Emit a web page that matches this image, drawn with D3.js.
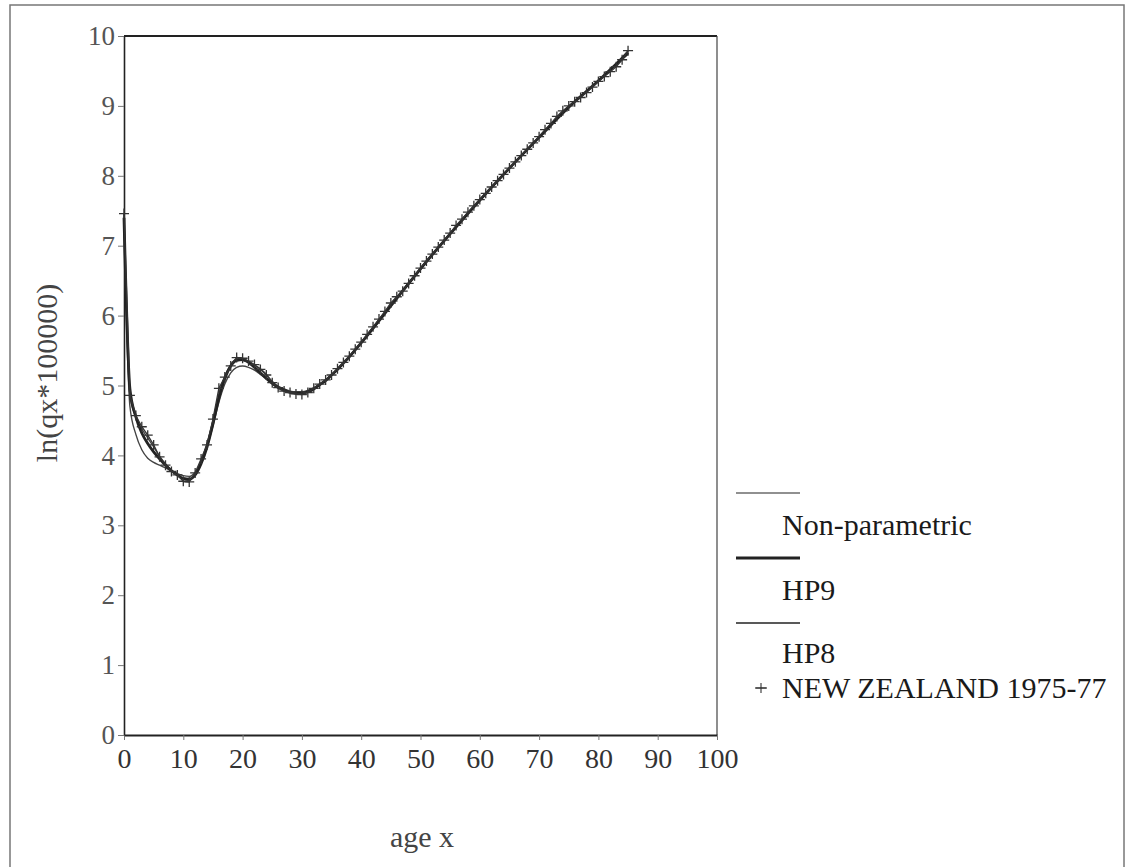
<!DOCTYPE html>
<html>
<head>
<meta charset="utf-8">
<script src="https://cdn.jsdelivr.net/npm/d3@7"></script>
<style>
  html, body { margin: 0; padding: 0; background: #fff; }
  svg text { font-family: "Liberation Serif", "DejaVu Serif", serif; }
</style>
</head>
<body>
<svg id="chart" width="1130" height="867"></svg>
<script>
// ---------------- data ----------------
const ages = d3.range(0, 86); // observed ages 0..85
const observed = [
  7.46, 4.86, 4.57, 4.41, 4.29, 4.15, 3.98, 3.86, 3.77, 3.72,
  3.63, 3.62, 3.75, 3.95, 4.15, 4.52, 4.96, 5.12, 5.28, 5.40,
  5.39, 5.35, 5.30, 5.23, 5.15, 5.04, 4.97, 4.92, 4.90, 4.88,
  4.87, 4.90, 4.96, 5.02, 5.08, 5.15, 5.24, 5.33, 5.42, 5.52,
  5.62, 5.73, 5.84, 5.95, 6.06, 6.18, 6.27, 6.35, 6.46, 6.57,
  6.68, 6.78, 6.88, 6.98, 7.08, 7.18, 7.29, 7.38, 7.48, 7.57,
  7.66, 7.75, 7.84, 7.93, 8.02, 8.11, 8.20, 8.29, 8.38, 8.47,
  8.56, 8.66, 8.75, 8.85, 8.93, 9.00, 9.06, 9.12, 9.19, 9.27,
  9.35, 9.42, 9.49, 9.56, 9.66, 9.79
];
const fitAges = [0,1,2,3,4,5,6,7,8,9,10,11,12,13,14,15,16,17,18,19,20,21,22,23,24,25,26,27,28,29,30,31,32,33,34,35,36,37,38,40,45,50,55,60,65,70,75,80,85];
const nonParametric = [
  7.46, 4.85, 4.55, 4.38, 4.25, 4.12, 3.99, 3.88, 3.79, 3.72,
  3.66, 3.64, 3.73, 3.93, 4.18, 4.50, 4.88, 5.14, 5.30, 5.38,
  5.38, 5.34, 5.29, 5.24, 5.16, 5.06, 4.98, 4.93, 4.90, 4.88,
  4.88, 4.91, 4.96, 5.02, 5.08, 5.15, 5.24, 5.33, 5.42, 5.62,
  6.16, 6.68, 7.18, 7.66, 8.11, 8.56, 9.00, 9.35, 9.79
];
const hp9 = [
  7.40, 4.95, 4.55, 4.32, 4.17, 4.05, 3.95, 3.86, 3.78, 3.72,
  3.67, 3.66, 3.72, 3.88, 4.12, 4.45, 4.82, 5.10, 5.28, 5.36,
  5.37, 5.33, 5.26, 5.18, 5.10, 5.03, 4.97, 4.93, 4.90, 4.89,
  4.89, 4.91, 4.95, 5.01, 5.07, 5.15, 5.23, 5.32, 5.41, 5.61,
  6.14, 6.67, 7.17, 7.65, 8.11, 8.55, 8.98, 9.36, 9.76
];
const hp8 = [
  7.20, 4.70, 4.30, 4.08, 3.96, 3.90, 3.86, 3.82, 3.78, 3.74,
  3.71, 3.70, 3.76, 3.90, 4.12, 4.42, 4.76, 5.02, 5.18, 5.26,
  5.28, 5.26, 5.22, 5.16, 5.10, 5.04, 4.99, 4.95, 4.92, 4.91,
  4.91, 4.93, 4.97, 5.02, 5.08, 5.15, 5.23, 5.32, 5.41, 5.61,
  6.14, 6.66, 7.17, 7.65, 8.10, 8.55, 8.98, 9.36, 9.74
];
const xTicks = [0,10,20,30,40,50,60,70,80,90,100];
const yTicks = [0,1,2,3,4,5,6,7,8,9,10];
const legendLabels = ["Non-parametric", "HP9", "HP8", "NEW ZEALAND 1975-77"];

// ---------------- layout ----------------
const svg = d3.select("#chart");
const ink = "#222";
const plot = { left: 124, right: 717, top: 36, bottom: 735 };

const x = d3.scaleLinear().domain([0, 100]).range([plot.left, plot.right]);
const y = d3.scaleLinear().domain([0, 10]).range([plot.bottom, plot.top]);

// outer frame
svg.append("rect")
  .attr("x", 10).attr("y", 5).attr("width", 1114).attr("height", 880)
  .attr("fill", "none").attr("stroke", "#777").attr("stroke-width", 1.5);

// plot frame: top & right
svg.append("line").attr("x1", plot.left).attr("x2", plot.right)
  .attr("y1", plot.top).attr("y2", plot.top)
  .attr("stroke", ink).attr("stroke-width", 2);
svg.append("line").attr("x1", plot.right).attr("x2", plot.right)
  .attr("y1", plot.top).attr("y2", plot.bottom)
  .attr("stroke", "#444").attr("stroke-width", 1.2);

// axes
const xAxis = d3.axisBottom(x).tickValues(xTicks).tickSize(5).tickPadding(8).tickSizeOuter(0);
const yAxis = d3.axisLeft(y).tickValues(yTicks).tickSize(6).tickPadding(3).tickSizeOuter(0);

const gx = svg.append("g").attr("transform", `translate(0,${plot.bottom})`).call(xAxis);
gx.select(".domain").attr("stroke", ink).attr("stroke-width", 2);
gx.selectAll(".tick line").attr("stroke", "#777");
gx.selectAll(".tick text").attr("font-size", 28).attr("fill", "#333")
  .attr("font-family", "Liberation Serif");

const gy = svg.append("g").attr("transform", `translate(${plot.left},0)`).call(yAxis);
gy.select(".domain").attr("stroke", ink).attr("stroke-width", 1.6);
gy.selectAll(".tick line").attr("stroke", "#777");
gy.selectAll(".tick text").attr("font-size", 27).attr("fill", "#555")
  .attr("font-family", "Liberation Serif");

// axis titles
svg.append("text")
  .attr("transform", `translate(57,373) rotate(-90)`)
  .attr("text-anchor", "middle")
  .attr("font-size", 30).attr("fill", "#444")
  .text("ln(qx*100000)");
svg.append("text")
  .attr("x", 422).attr("y", 847)
  .attr("text-anchor", "middle")
  .attr("font-size", 30).attr("fill", "#444")
  .text("age x");

// ---------------- series ----------------
const fitLine = d3.line()
  .x((d, i) => x(fitAges[i]))
  .y(d => y(d))
  .curve(d3.curveMonotoneX);
const obsLine = d3.line()
  .x((d, i) => x(ages[i]))
  .y(d => y(d));

svg.append("path").datum(hp8).attr("d", fitLine)
  .attr("fill", "none").attr("stroke", "#444").attr("stroke-width", 1.4);
svg.append("path").datum(nonParametric).attr("d", fitLine)
  .attr("fill", "none").attr("stroke", "#444").attr("stroke-width", 1.3);
svg.append("path").datum(hp9).attr("d", fitLine)
  .attr("fill", "none").attr("stroke", ink).attr("stroke-width", 2.8);
svg.append("path").datum(observed).attr("d", obsLine)
  .attr("fill", "none").attr("stroke", "#333").attr("stroke-width", 1.3);

const plusShape = {
  draw(ctx) { const r = 5; ctx.moveTo(-r, 0); ctx.lineTo(r, 0); ctx.moveTo(0, -r); ctx.lineTo(0, r); }
};
svg.append("g").selectAll("path.obs")
  .data(observed)
  .join("path")
  .attr("class", "obs")
  .attr("transform", (d, i) => `translate(${x(ages[i])},${y(d)})`)
  .attr("d", d3.symbol().type(plusShape)())
  .attr("fill", "none").attr("stroke", "#333").attr("stroke-width", 1.3);

// ---------------- legend ----------------
const legend = [
  { label: legendLabels[0], lineY: 493, textY: 535, w: 1.2 },
  { label: legendLabels[1], lineY: 558, textY: 600, w: 3 },
  { label: legendLabels[2], lineY: 623, textY: 663, w: 1.3 },
];
const lg = svg.append("g");
legend.forEach(it => {
  lg.append("line").attr("x1", 736).attr("x2", 800)
    .attr("y1", it.lineY).attr("y2", it.lineY)
    .attr("stroke", ink).attr("stroke-width", it.w);
  lg.append("text").attr("x", 782).attr("y", it.textY)
    .attr("font-size", 30).attr("fill", "#1a1a1a").text(it.label);
});
// observed legend: short dash + plus marker
lg.append("line").attr("x1", 755).attr("x2", 767).attr("y1", 688).attr("y2", 688)
  .attr("stroke", "#333").attr("stroke-width", 1.2);
lg.append("path").attr("transform", "translate(761,688)")
  .attr("d", d3.symbol().type(plusShape)())
  .attr("fill", "none").attr("stroke", "#333").attr("stroke-width", 1.1);
lg.append("text").attr("x", 782).attr("y", 698)
  .attr("font-size", 30).attr("fill", "#1a1a1a").text(legendLabels[3]);
</script>
</body>
</html>
